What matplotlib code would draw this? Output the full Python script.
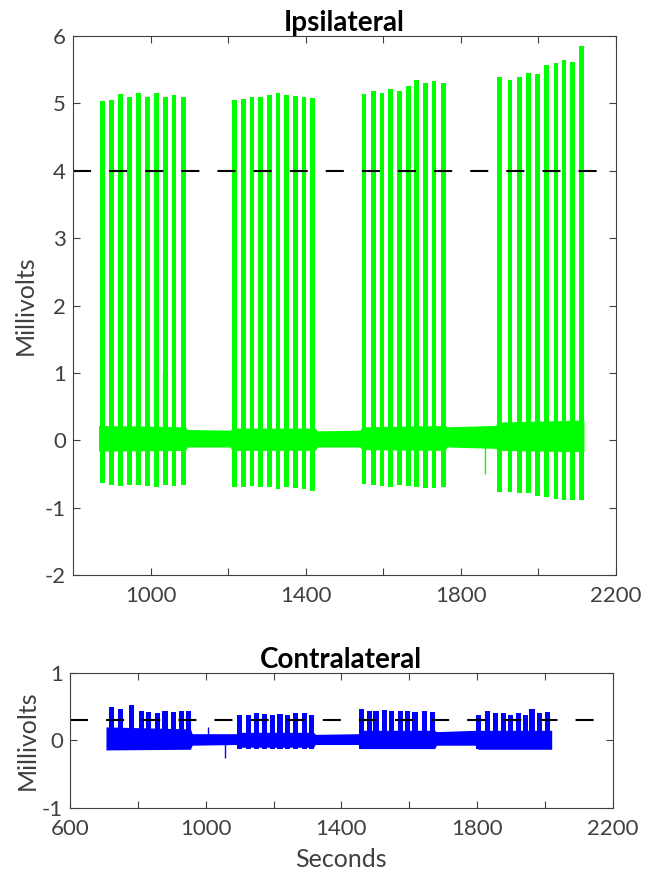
import numpy as np
import matplotlib
matplotlib.use('Agg')
import matplotlib.pyplot as plt

plt.rcParams['font.family'] = ['Lato', 'DejaVu Sans']
plt.rcParams['lines.scale_dashes'] = False
plt.rcParams['axes.unicode_minus'] = False

# Ipsilateral pulse trains (seconds, peak mV, trough mV)
ipsi_times = [876.6, 899.8, 922.0, 945.3, 968.5, 991.7, 1015.9, 1038.1, 1060.6, 1084.6,
              1216.2, 1239.4, 1261.8, 1284.2, 1306.4, 1328.8, 1351.3, 1373.5, 1395.9, 1418.4,
              1550.7, 1574.7, 1597.1, 1619.6, 1641.8, 1665.0, 1686.7, 1708.8, 1731.3, 1755.3,
              1899.7, 1927.3, 1951.3, 1975.6, 1997.8, 2022.0, 2046.0, 2066.7, 2089.1, 2112.3]
ipsi_peaks = [5.03, 5.05, 5.14, 5.09, 5.15, 5.10, 5.15, 5.10, 5.12, 5.10,
              5.05, 5.07, 5.10, 5.10, 5.12, 5.15, 5.12, 5.11, 5.10, 5.08,
              5.14, 5.18, 5.16, 5.21, 5.19, 5.26, 5.35, 5.31, 5.33, 5.31,
              5.39, 5.35, 5.39, 5.45, 5.44, 5.57, 5.60, 5.65, 5.62, 5.85]
ipsi_troughs = [-0.64, -0.66, -0.68, -0.66, -0.67, -0.68, -0.70, -0.67, -0.68, -0.67,
                -0.69, -0.70, -0.68, -0.70, -0.70, -0.72, -0.70, -0.71, -0.72, -0.75,
                -0.65, -0.67, -0.68, -0.70, -0.67, -0.68, -0.69, -0.71, -0.71, -0.70,
                -0.77, -0.77, -0.79, -0.79, -0.82, -0.84, -0.87, -0.88, -0.89, -0.88]
# baseline noise envelope
ipsi_env_t = [866, 1090, 1095, 1205, 1210, 1425, 1430, 1540, 1545, 1760, 1765, 1890, 1895, 2118]
ipsi_env_hi = [0.22, 0.20, 0.16, 0.15, 0.18, 0.18, 0.14, 0.15, 0.20, 0.22, 0.20, 0.22, 0.27, 0.30]
ipsi_env_lo = [-0.16, -0.15, -0.10, -0.10, -0.15, -0.15, -0.10, -0.10, -0.14, -0.15, -0.10, -0.12, -0.15, -0.17]
ipsi_spike_t = [1031, 1863]
ipsi_spike_v = [1.0, -0.5]
ipsi_thresh = 4
ipsi_thresh_x = [800, 2155]

# Contralateral
contra_times = [721, 750, 782, 811, 832, 857, 880, 904, 929, 950,
                1101, 1127, 1150, 1173, 1198, 1219, 1241, 1265, 1290, 1312,
                1460, 1484, 1502, 1526, 1549, 1573, 1594, 1617, 1644, 1668,
                1805, 1830, 1854, 1877, 1899, 1923, 1944, 1962, 1983, 2008]
contra_peaks = [0.49, 0.47, 0.52, 0.44, 0.42, 0.41, 0.44, 0.42, 0.44, 0.43,
                0.38, 0.38, 0.41, 0.39, 0.37, 0.39, 0.38, 0.40, 0.40, 0.37,
                0.46, 0.44, 0.44, 0.45, 0.43, 0.44, 0.44, 0.42, 0.43, 0.42,
                0.38, 0.44, 0.40, 0.40, 0.38, 0.40, 0.38, 0.47, 0.40, 0.42]
contra_troughs = [-0.13] * 40
contra_env_t = [706, 955, 960, 1090, 1095, 1318, 1323, 1452, 1457, 1675, 1680, 1798, 1803, 2020]
contra_env_hi = [0.20, 0.17, 0.10, 0.10, 0.12, 0.12, 0.09, 0.10, 0.15, 0.15, 0.13, 0.15, 0.15, 0.15]
contra_env_lo = [-0.14, -0.13, -0.07, -0.06, -0.10, -0.10, -0.06, -0.06, -0.12, -0.12, -0.07, -0.07, -0.13, -0.13]
contra_spike_t = [1008, 1057]
contra_spike_v = [0.20, -0.26]
contra_thresh = 0.3
contra_thresh_x = [600, 2145]

green = '#00FF00'
blue = '#0000FF'
tick_col = '#404040'

fig = plt.figure(figsize=(6.5, 8.72), dpi=100)
ax1 = fig.add_axes([0.1123, 0.3406, 0.835, 0.618])
ax2 = fig.add_axes([0.1077, 0.0731, 0.835, 0.1555])


def draw(ax, times, peaks, troughs, env_t, env_hi, env_lo, sp_t, sp_v, col, width):
    ax.fill_between(env_t, env_lo, env_hi, color=col, lw=0)
    hts = np.array(peaks) - np.array(troughs)
    ax.bar(times, hts, bottom=troughs, width=width, color=col, lw=0)
    ax.vlines(sp_t, 0, sp_v, color=col, lw=1)


draw(ax1, ipsi_times, ipsi_peaks, ipsi_troughs, ipsi_env_t, ipsi_env_hi, ipsi_env_lo,
     ipsi_spike_t, ipsi_spike_v, green, 12)
ax1.plot(ipsi_thresh_x, [ipsi_thresh] * 2, color='black', lw=1.5, dashes=(13, 13))
draw(ax2, contra_times, contra_peaks, contra_troughs, contra_env_t, contra_env_hi, contra_env_lo,
     contra_spike_t, contra_spike_v, blue, 15)
ax2.plot(contra_thresh_x, [contra_thresh] * 2, color='black', lw=1.5, dashes=(13, 13))

ax1.set_xlim(800, 2200)
ax1.set_ylim(-2, 6)
ax1.set_xticks(range(1000, 2201, 200))
ax1.set_xticklabels(['1000', '', '1400', '', '1800', '', '2200'])
ax1.set_yticks(range(-2, 7))
ax1.set_title('Ipsilateral', fontsize=20, fontweight='bold', pad=4)
ax1.set_ylabel('Millivolts', fontsize=18, color=tick_col, labelpad=6)

ax2.set_xlim(600, 2200)
ax2.set_ylim(-1, 1)
ax2.set_xticks(range(600, 2201, 200))
ax2.set_xticklabels(['600', '', '1000', '', '1400', '', '1800', '', '2200'])
ax2.set_yticks([-1, 0, 1])
ax2.set_title('Contralateral', fontsize=20, fontweight='bold', pad=3)
ax2.set_ylabel('Millivolts', fontsize=18, color=tick_col, labelpad=2)
ax2.set_xlabel('Seconds', fontsize=18, color=tick_col, labelpad=6)

for ax in (ax1, ax2):
    ax.tick_params(direction='in', top=True, right=True, length=5, width=0.8,
                   colors=tick_col, labelsize=16, labelcolor=tick_col)
    ax.tick_params(axis='x', pad=8)
    ax.tick_params(axis='y', pad=5)
    for s in ax.spines.values():
        s.set_color(tick_col)
        s.set_linewidth(0.8)

fig.savefig('out.png', dpi=100)
